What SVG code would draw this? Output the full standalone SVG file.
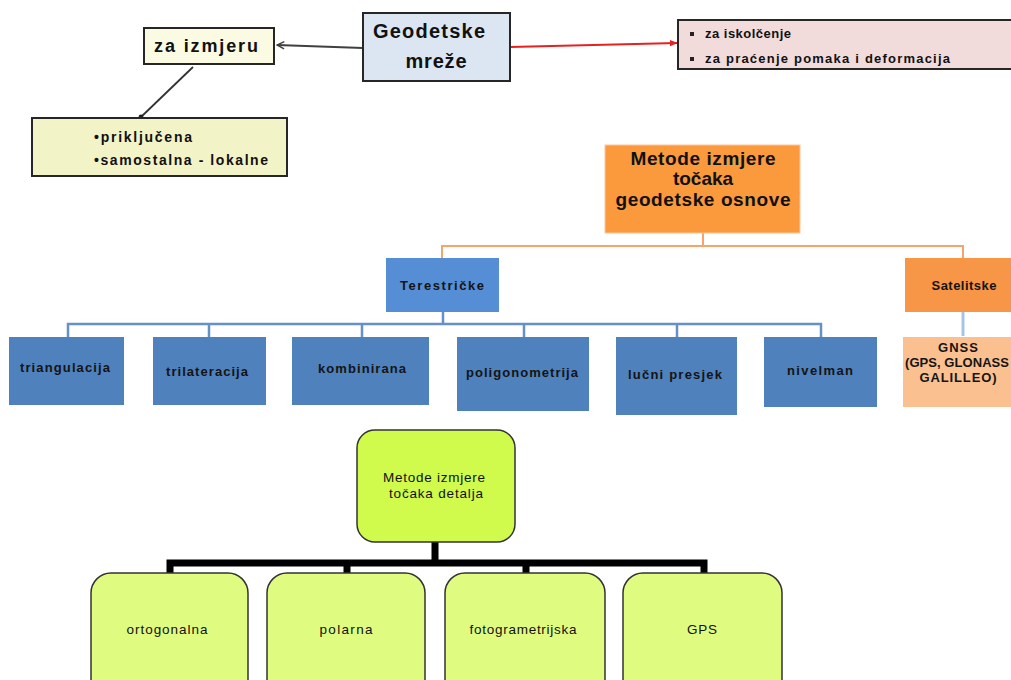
<svg xmlns="http://www.w3.org/2000/svg" width="1011" height="680" viewBox="0 0 1011 680">
<defs>
<style>
.bx{stroke:#262626;stroke-width:2}
.t{font-family:"Liberation Sans",Arial,sans-serif;fill:#111;text-anchor:middle}
.b{font-weight:bold}
.blue{fill:#4f81bd}
.bt{font-size:13px;font-weight:bold;fill:#141414}
.gr{fill:#e0fc80;stroke:#333;stroke-width:1.5}
.gt{font-size:13.5px}
.oc{fill:none;stroke:#f7a36c;stroke-width:2}
.bc{fill:none;stroke:#6590c8;stroke-width:2.5}
.kc{fill:none;stroke:#000;stroke-width:7}
</style>
<marker id="open" viewBox="0 0 10 10" refX="9" refY="5" markerWidth="9" markerHeight="9" orient="auto" markerUnits="userSpaceOnUse">
<path d="M1,1 L9,5 L1,9" fill="none" stroke="#404040" stroke-width="1.6"/>
</marker>
<marker id="dot" viewBox="0 0 10 10" refX="5" refY="5" markerWidth="6" markerHeight="6" markerUnits="userSpaceOnUse">
<circle cx="5" cy="5" r="4" fill="#222"/>
</marker>
<marker id="red" viewBox="0 0 10 10" refX="9" refY="5" markerWidth="8" markerHeight="8" orient="auto" markerUnits="userSpaceOnUse">
<path d="M0,1 L10,5 L0,9 Z" fill="#e82020"/>
</marker>
</defs>
<rect width="1011" height="680" fill="#fff"/>

<g id="connectors">
<line x1="363" y1="48" x2="277" y2="45" stroke="#404040" stroke-width="2" marker-end="url(#open)"/>
<line x1="193" y1="67" x2="141" y2="117" stroke="#333" stroke-width="1.8" marker-end="url(#dot)"/>
<line x1="510" y1="47" x2="677" y2="43" stroke="#e82020" stroke-width="1.8" marker-end="url(#red)"/>
<path class="oc" d="M703,233 V246 M442,259 V246 H963 V259"/>
<path class="bc" d="M443,312 V324 M68,337 V324 H821 V337 M209,324 V337 M362,324 V337 M524,324 V337 M677,324 V337"/>
<path d="M963,312 V336" fill="none" stroke="#a8c4e4" stroke-width="3"/>
<path class="kc" d="M435,542 V563 M170,574 V563 H704 V574 M347,563 V574 M526,563 V574"/>
</g>

<g id="geodetske">
<rect x="363" y="13" width="147" height="68" fill="#dce6f2" class="bx"/>
<text class="t b" x="429" y="38" font-size="20" textLength="112">Geodetske</text>
<text class="t b" x="436" y="68" font-size="20" textLength="61">mreže</text>
</g>

<g id="za-izmjeru">
<rect x="144" y="28" width="130" height="36" fill="#fbfbe4" class="bx"/>
<text class="t b" x="206" y="52" font-size="18" textLength="104">za  izmjeru</text>
</g>

<g id="prikljucena">
<rect x="32" y="118" width="255" height="58" fill="#f3f3c8" class="bx"/>
<text class="t b" x="94" y="142" font-size="14" style="text-anchor:start" textLength="98">•priključena</text>
<text class="t b" x="94" y="165" font-size="14" style="text-anchor:start" textLength="174">•samostalna  - lokalne</text>
</g>

<g id="iskolcenje">
<rect x="678" y="20" width="340" height="49" fill="#f2dcdb" class="bx"/>
<rect x="690" y="32" width="4" height="4" fill="#222"/>
<rect x="690" y="57" width="4" height="4" fill="#222"/>
<text class="t b" x="705" y="38" font-size="13" style="text-anchor:start" textLength="86">za iskolčenje</text>
<text class="t b" x="705" y="63" font-size="13" style="text-anchor:start" textLength="245">za praćenje pomaka  i deformacija</text>
</g>

<g id="metode-osnove">
<rect x="605" y="145" width="195" height="88" fill="#fa9a3c" stroke="#fcc8a0" stroke-width="1"/>
<text class="t b" x="703" y="165" font-size="19" textLength="145">Metode izmjere</text>
<text class="t b" x="703" y="185" font-size="19">točaka</text>
<text class="t b" x="703" y="206" font-size="19" textLength="175">geodetske osnove</text>
</g>

<g id="terestricke">
<rect x="386" y="258" width="113" height="54" fill="#568ed6"/>
<text class="t bt" x="442" y="290" textLength="84">Terestričke</text>
</g>

<g id="satelitske">
<rect x="905" y="258" width="110" height="54" fill="#f79646"/>
<text class="t bt" x="964" y="290" textLength="65">Satelitske</text>
</g>

<g id="triangulacija">
<rect x="9" y="337" width="115" height="68" class="blue"/>
<text class="t bt" x="65" y="372" textLength="90">triangulacija</text>
</g>
<g id="trilateracija">
<rect x="153" y="337" width="113" height="68" class="blue"/>
<text class="t bt" x="207" y="376" textLength="82">trilateracija</text>
</g>
<g id="kombinirana">
<rect x="292" y="337" width="137" height="68" class="blue"/>
<text class="t bt" x="362" y="373" textLength="88">kombinirana</text>
</g>
<g id="poligonometrija">
<rect x="457" y="337" width="132" height="74" class="blue"/>
<text class="t bt" x="522" y="377" textLength="112">poligonometrija</text>
</g>
<g id="lucni-presjek">
<rect x="616" y="337" width="121" height="78" class="blue"/>
<text class="t bt" x="675" y="379" textLength="94">lučni presjek</text>
</g>
<g id="nivelman">
<rect x="764" y="337" width="113" height="70" class="blue"/>
<text class="t bt" x="820" y="375" textLength="66">nivelman</text>
</g>

<g id="gnss">
<rect x="903" y="337" width="112" height="70" fill="#fac08f"/>
<text class="t bt" x="958" y="352" textLength="40">GNSS</text>
<text class="t bt" x="957" y="367" font-size="12" textLength="104">(GPS, GLONASS</text>
<text class="t bt" x="958" y="382" textLength="77">GALILLEO)</text>
</g>

<g id="metode-detalja">
<rect x="357" y="430" width="158" height="112" rx="18" fill="#d0fa4c" stroke="#333" stroke-width="1.5"/>
<text class="t gt" x="434" y="482" font-size="13" textLength="102">Metode izmjere</text>
<text class="t gt" x="436" y="498" font-size="13" textLength="94">točaka detalja</text>
</g>

<g id="ortogonalna">
<rect x="91" y="573" width="157" height="130" rx="20" class="gr"/>
<text class="t gt" x="167" y="634" textLength="81">ortogonalna</text>
</g>
<g id="polarna">
<rect x="267" y="573" width="158" height="130" rx="20" class="gr"/>
<text class="t gt" x="346" y="634" textLength="53">polarna</text>
</g>
<g id="fotogrametrijska">
<rect x="445" y="573" width="160" height="130" rx="20" class="gr"/>
<text class="t gt" x="523" y="634" textLength="107">fotogrametrijska</text>
</g>
<g id="gps">
<rect x="623" y="573" width="159" height="130" rx="20" class="gr"/>
<text class="t gt" x="702" y="634" textLength="30">GPS</text>
</g>
</svg>
